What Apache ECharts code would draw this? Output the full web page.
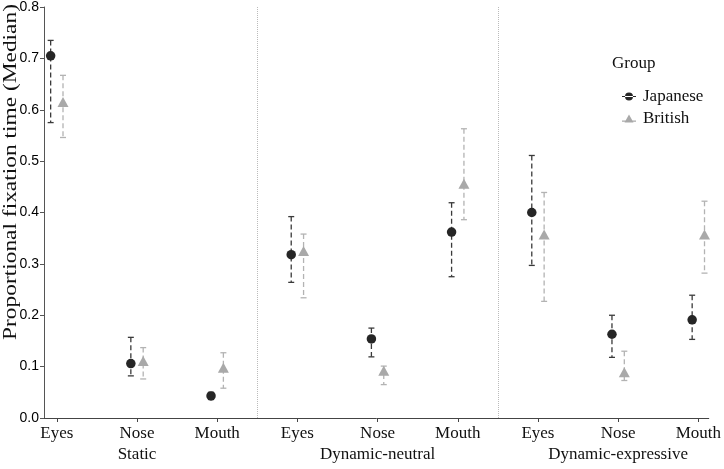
<!DOCTYPE html>
<html>
<head>
<meta charset="utf-8">
<script src="https://cdn.jsdelivr.net/npm/echarts@6/dist/echarts.min.js"></script>
<style>html,body{margin:0;padding:0;background:#fff;}#c{width:724px;height:469px;}</style>
</head>
<body>
<div id="c"></div>
<script>
const categories = ['Eyes','Nose','Mouth','Eyes','Nose','Mouth','Eyes','Nose','Mouth'];
const conditions = ['Static','Dynamic-neutral','Dynamic-expressive'];
const yTicks = [0,0.1,0.2,0.3,0.4,0.5,0.6,0.7,0.8];
const japaneseMedian = [0.705,0.106,0.043,0.318,0.154,0.362,0.400,0.163,0.191];
const japaneseUpper  = [0.735,0.157,0.050,0.392,0.175,0.419,0.511,0.200,0.239];
const japaneseLower  = [0.575,0.082,0.036,0.264,0.119,0.275,0.297,0.118,0.153];
const britishMedian  = [0.615,0.111,0.098,0.325,0.092,0.456,0.357,0.089,0.357];
const britishUpper   = [0.667,0.137,0.127,0.358,0.101,0.563,0.439,0.130,0.422];
const britishLower   = [0.546,0.076,0.058,0.234,0.065,0.386,0.227,0.073,0.282];

const positions = categories.map((c,i)=>i+1);
const conditionPositions = conditions.map((c,i)=>i*3+2);
const dodge = 0.077;
const jColor = '#262626', bColor = '#a9a9a9';
const jBar = '#3a3a3a', bBar = '#b3b3b3';

function errRender(color){
  return function(params, api){
    const x = api.value(0), lo = api.value(1), hi = api.value(2);
    const t = api.coord([x,hi]), b = api.coord([x,lo]);
    const cw = 3;
    return {type:'group', children:[
      {type:'line', shape:{x1:t[0],y1:t[1],x2:b[0],y2:b[1]}, style:{stroke:color,lineWidth:1.3,lineDash:[5,3]}},
      {type:'line', shape:{x1:t[0]-cw,y1:t[1],x2:t[0]+cw,y2:t[1]}, style:{stroke:color,lineWidth:1.3}},
      {type:'line', shape:{x1:b[0]-cw,y1:b[1],x2:b[0]+cw,y2:b[1]}, style:{stroke:color,lineWidth:1.3}}
    ]};
  };
}

const serif = '"Liberation Serif", "Times New Roman", serif';
const chart = echarts.init(document.getElementById('c'));
chart.setOption({
  animation:false,
  backgroundColor:'#fff',
  grid:{left:44,right:13,top:6,bottom:51},
  xAxis:[{
    type:'value', min:0.84, max:9.13,
    splitLine:{show:false},
    axisLine:{show:true,lineStyle:{color:'#444',width:1}},
    axisTick:{show:true,customValues:positions,length:4,lineStyle:{color:'#444'}},
    axisLabel:{
      customValues:positions, margin:7, showMaxLabel:true, showMinLabel:true, hideOverlap:false,
      fontFamily:serif, fontSize:17, color:'#111',
      formatter:function(v){ return categories[Math.round(v)-1]; }
    }
  },{
    type:'value', min:0.84, max:9.13, position:'bottom',
    splitLine:{show:false}, axisLine:{show:false}, axisTick:{show:false},
    axisLabel:{
      customValues:conditionPositions, margin:28, showMaxLabel:true, showMinLabel:true,
      fontFamily:serif, fontSize:17, color:'#111',
      formatter:function(v){ return conditions[(Math.round(v)-2)/3]; }
    }
  }],
  yAxis:{
    type:'value', min:0, max:0.8, interval:0.1,
    splitLine:{show:false},
    axisLine:{show:true,lineStyle:{color:'#555',width:1}},
    axisTick:{show:true,length:4,lineStyle:{color:'#555'}},
    axisLabel:{margin:5,fontFamily:'"Liberation Sans", Arial, sans-serif',fontSize:14,color:'#000',
      formatter:v=>v.toFixed(1)}
  },
  legend:{
    orient:'vertical', left:617, top:83, itemGap:5,
    itemWidth:14, itemHeight:9,
    textStyle:{fontFamily:serif,fontSize:17,color:'#111',lineHeight:17,padding:[0,0,0,2]},
    data:[
      {name:'Japanese', icon:'path://M0,4h14v1.2h-14z M3,4.6a4,4 0 1,0 8,0a4,4 0 1,0 -8,0z', itemStyle:{color:jColor}},
      {name:'British', icon:'path://M7,0L11.5,8L2.5,8z M0,6h14v1.2h-14z', itemStyle:{color:bColor}}
    ]
  },
  graphic:[
    {type:'text', left:612, top:55, style:{text:'Group', font:'17px '+serif, fill:'#111'}},
    {type:'text', x:11, y:172, rotation:Math.PI/2, scaleX:1.3,
      style:{text:'Proportional fixation time (Median)', font:'18px '+serif, fill:'#111', textAlign:'center', textVerticalAlign:'middle'}}
  ],
  series:[
    {name:'Japanese error', type:'custom', z:1, renderItem:errRender(jBar),
      data:positions.map((p,i)=>[p-dodge, japaneseLower[i], japaneseUpper[i]]),
      encode:{x:0,y:[1,2]}},
    {name:'British error', type:'custom', z:1, renderItem:errRender(bBar),
      data:positions.map((p,i)=>[p+dodge, britishLower[i], britishUpper[i]]),
      encode:{x:0,y:[1,2]}},
    {name:'Japanese', type:'scatter', z:3, symbol:'circle', symbolSize:9.5,
      itemStyle:{color:jColor,opacity:1},
      data:positions.map((p,i)=>[p-dodge, japaneseMedian[i]]),
      markLine:{silent:true, symbol:'none', label:{show:false},
        lineStyle:{type:'dotted',color:'#bbb',width:1},
        data:[{xAxis:3.5},{xAxis:6.5}]}},
    {name:'British', type:'scatter', z:3, symbol:'triangle', symbolSize:[11,10],
      itemStyle:{color:bColor,opacity:1},
      data:positions.map((p,i)=>[p+dodge, britishMedian[i]])}
  ]
});
</script>
</body>
</html>
